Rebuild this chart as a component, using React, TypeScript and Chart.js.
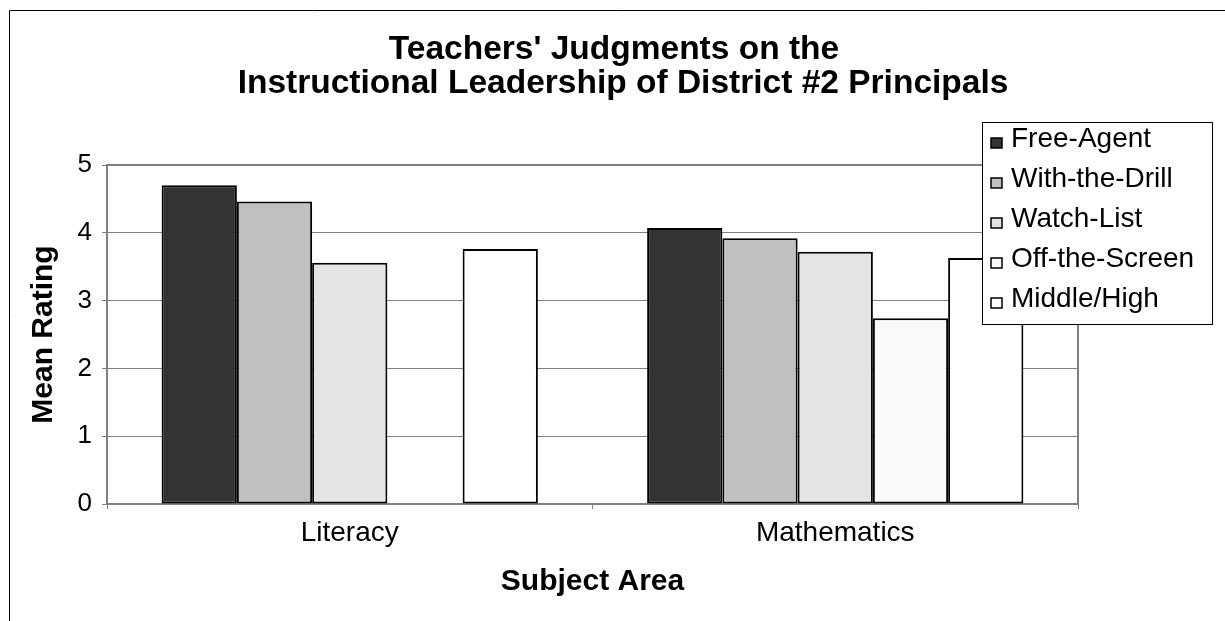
import React, { useEffect, useRef } from "react";
import { Chart, registerables } from "chart.js";

Chart.register(...registerables);

const categories = ["Literacy", "Mathematics"];
const seriesNames = ["Free-Agent", "With-the-Drill", "Watch-List", "Off-the-Screen", "Middle/High"];
const freeAgent = [4.7, 4.07];
const withTheDrill = [4.46, 3.92];
const watchList = [3.56, 3.72];
const offTheScreen = [null, 2.74];
const middleHigh = [3.76, 3.63];
const seriesColors = ["#333333", "#c0c0c0", "#e4e4e4", "#f9f9f9", "#ffffff"];
const titleLines = ["Teachers' Judgments on the", "Instructional Leadership of District #2 Principals"];
const yTitle = "Mean Rating";
const xTitle = "Subject Area";

const FONT = "'Liberation Sans', Arial, sans-serif";

const decorPlugin = {
  id: "decor",
  beforeDatasetsDraw(chart: any) {
    const { ctx, chartArea } = chart;
    ctx.save();
    ctx.strokeStyle = "#808080";
    ctx.lineWidth = 2;
    ctx.beginPath();
    ctx.moveTo(chartArea.left, chartArea.top);
    ctx.lineTo(chartArea.right, chartArea.top);
    ctx.lineTo(chartArea.right, chartArea.bottom);
    ctx.stroke();
    ctx.restore();
  },
  afterDraw(chart: any) {
    const { ctx } = chart;
    ctx.save();
    // outer frame
    ctx.strokeStyle = "#000000";
    ctx.lineWidth = 1;
    ctx.beginPath();
    ctx.moveTo(9.5, 700);
    ctx.lineTo(9.5, 10.5);
    ctx.lineTo(1300, 10.5);
    ctx.stroke();

    // title
    ctx.fillStyle = "#000000";
    ctx.font = `bold 33.5px ${FONT}`;
    ctx.textAlign = "center";
    ctx.textBaseline = "alphabetic";
    ctx.fillText(titleLines[0], 614, 59);
    ctx.fillText(titleLines[1], 623, 93);

    // legend
    const lx = 982, ly = 122, lw = 230, lh = 202;
    ctx.fillStyle = "#ffffff";
    ctx.fillRect(lx, ly, lw, lh);
    ctx.strokeStyle = "#000000";
    ctx.lineWidth = 1;
    ctx.strokeRect(lx + 0.5, ly + 0.5, lw, lh);
    ctx.font = `28px ${FONT}`;
    ctx.textAlign = "left";
    ctx.textBaseline = "middle";
    chart.data.datasets.forEach((ds: any, i: number) => {
      const cy = 139 + i * 40;
      ctx.fillStyle = ds.backgroundColor;
      ctx.fillRect(991, cy - 1, 11, 10);
      ctx.strokeStyle = "#000000";
      ctx.lineWidth = 1.5;
      ctx.strokeRect(991, cy - 1, 11, 10);
      ctx.fillStyle = "#000000";
      ctx.fillText(ds.label, 1011, cy);
    });
    ctx.restore();
  },
};

export default function App() {
  const ref = useRef<HTMLCanvasElement | null>(null);
  useEffect(() => {
    if (!ref.current) return;
    const values = [freeAgent, withTheDrill, watchList, offTheScreen, middleHigh];
    const chart = new Chart(ref.current, {
      type: "bar",
      data: {
        labels: categories,
        datasets: seriesNames.map((name, i) => ({
          label: name,
          data: values[i] as any,
          backgroundColor: seriesColors[i],
          borderColor: "#000000",
          borderWidth: 2,
          borderSkipped: false,
          categoryPercentage: 0.775,
          barPercentage: 1,
        })),
      },
      options: {
        responsive: false,
        animation: false,
        devicePixelRatio: 1,
        layout: { padding: { top: 165, left: 0, right: 147, bottom: 0 } },
        plugins: {
          legend: { display: false },
          title: { display: false },
          tooltip: { enabled: false },
        },
        scales: {
          x: {
            grid: {
              display: true,
              drawOnChartArea: false,
              drawTicks: true,
              tickLength: 5,
              offset: true,
              color: "#808080",
              lineWidth: 1,
            },
            border: { display: true, color: "#808080", width: 2 },
            ticks: {
              color: "#000000",
              font: { family: FONT, size: 28 },
              padding: 7,
            },
            title: {
              display: true,
              text: xTitle,
              color: "#000000",
              font: { family: FONT, size: 30, weight: "bold" },
              padding: { top: 0, bottom: 21 },
            },
            afterFit(scale: any) {
              scale.height = 117;
            },
          },
          y: {
            min: 0,
            max: 5,
            ticks: {
              stepSize: 1,
              color: "#000000",
              font: { family: FONT, size: 26 },
              padding: 10,
            },
            grid: {
              color: "#808080",
              lineWidth: 1,
              drawTicks: true,
              tickLength: 5,
            },
            border: { display: true, color: "#808080", width: 2 },
            title: {
              display: true,
              text: yTitle,
              color: "#000000",
              font: { family: FONT, size: 30, weight: "bold" },
              padding: { top: 26, bottom: 0 },
            },
            afterFit(scale: any) {
              scale.width = 107;
            },
          },
        },
      },
      plugins: [decorPlugin],
    });
    return () => chart.destroy();
  }, []);
  return (
    <div style={{ position: "fixed", left: 0, top: 0, width: 1225, height: 621, background: "#ffffff" }}>
      <canvas ref={ref} width={1225} height={621} style={{ display: "block" }} />
    </div>
  );
}
